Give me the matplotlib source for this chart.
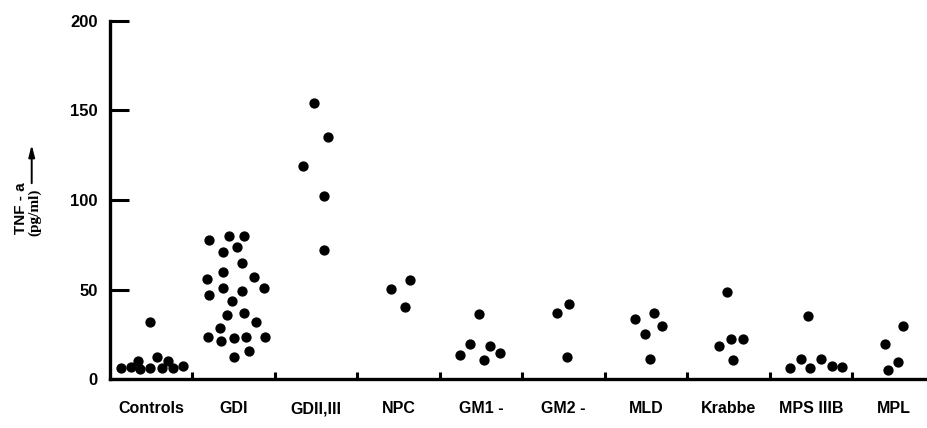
import matplotlib
matplotlib.use('Agg')
import matplotlib.pyplot as plt

# 질환 그룹 (x축 라벨)
groups = ['Controls', 'GDI', 'GDII,III', 'NPC', 'GM1 -', 'GM2 -',
          'MLD', 'Krabbe', 'MPS IIIB', 'MPL']

# 그룹 안에서의 가로 위치 (0~1, 그림에서 읽은 값)
controls_x = [0.13, 0.25, 0.36, 0.34, 0.49, 0.49, 0.57, 0.63, 0.70, 0.76, 0.89]
controls_y = [6.0, 6.5, 5.4, 10.2, 6.1, 31.7, 12.1, 6.1, 10.2, 6.1, 7.1]

gd1_x = [0.20, 0.44, 0.62, 0.37, 0.54, 0.60, 0.37, 0.18, 0.75, 0.37, 0.60, 0.87, 0.20,
         0.48, 0.42, 0.63, 0.77, 0.33, 0.19, 0.35, 0.50, 0.65, 0.88, 0.68, 0.50]
gd1_y = [77.7, 79.7, 80.1, 70.9, 73.9, 65.0, 59.6, 55.9, 57.0, 50.8, 49.2, 51.0, 46.8,
         43.7, 35.6, 36.7, 31.7, 28.5, 23.5, 21.2, 23.1, 23.5, 23.6, 15.5, 12.1]

gd23_x = [0.47, 0.64, 0.34, 0.60, 0.59]
gd23_y = [154.0, 135.4, 119.2, 102.2, 72.1]

npc_x = [0.41, 0.64, 0.58]
npc_y = [50.4, 55.5, 40.4]

gm1_x = [0.47, 0.36, 0.61, 0.25, 0.73, 0.53]
gm1_y = [36.5, 19.4, 18.3, 13.4, 14.4, 10.4]

gm2_x = [0.42, 0.57, 0.54]
gm2_y = [36.7, 41.7, 12.5]

mld_x = [0.37, 0.60, 0.69, 0.49, 0.55]
mld_y = [33.5, 36.7, 29.4, 25.3, 11.2]

krabbe_x = [0.48, 0.39, 0.53, 0.68, 0.56]
krabbe_y = [48.6, 18.3, 22.3, 22.3, 10.4]

mps_x = [0.47, 0.25, 0.38, 0.49, 0.62, 0.75, 0.88]
mps_y = [35.4, 6.1, 11.2, 6.0, 11.2, 7.4, 6.7]

mpl_x = [0.62, 0.40, 0.56, 0.44]
mpl_y = [29.4, 19.4, 9.3, 5.2]

y_ticks = [0, 50, 100, 150, 200]

group_x = [controls_x, gd1_x, gd23_x, npc_x, gm1_x, gm2_x, mld_x, krabbe_x, mps_x, mpl_x]
group_y = [controls_y, gd1_y, gd23_y, npc_y, gm1_y, gm2_y, mld_y, krabbe_y, mps_y, mpl_y]

SANS = ['Liberation Sans', 'DejaVu Sans']
SERIF = ['Liberation Serif', 'DejaVu Serif']


def setup_axes(ax):
    # 왼쪽, 아래 축만 굵게
    for side in ['top', 'right']:
        ax.spines[side].set_visible(False)
    for side in ['left', 'bottom']:
        ax.spines[side].set_linewidth(2.4)
        ax.spines[side].set_capstyle('projecting')

    ax.set_xlim(0, 9.92)
    ax.set_ylim(0, 200)

    # y축: 안쪽으로 긴 눈금
    ax.set_yticks(y_ticks)
    ax.set_yticklabels([str(v) for v in y_ticks], fontfamily=SANS,
                       fontweight='bold', fontsize=12)
    ax.tick_params(axis='y', direction='in', length=14, width=2.2, pad=9)

    # x축: 그룹 경계에 짧은 눈금, 라벨은 가운데(minor)
    ax.set_xticks(range(1, len(groups)))
    ax.set_xticklabels([])
    ax.tick_params(axis='x', which='major', direction='in', length=5, width=2.2)
    ax.set_xticks([i + 0.5 for i in range(len(groups))], minor=True)
    ax.set_xticklabels(groups, minor=True, fontfamily=SANS,
                       fontweight='bold', fontsize=11.5)
    ax.tick_params(axis='x', which='minor', length=0, pad=16)


def draw_points(ax):
    for i, (xs, ys) in enumerate(zip(group_x, group_y)):
        ax.plot([i + x for x in xs], ys, 'o', color='black',
                markersize=6.4, clip_on=False, zorder=3)


def draw_ylabel(fig):
    fig.text(20.7 / 928, 1 - 208 / 428, 'TNF - a', rotation=90,
             ha='center', va='center', fontsize=11, fontweight='bold',
             fontfamily=SANS)
    fig.text(34.5 / 928, 1 - 212 / 428, '(pg/ml)', rotation=90,
             ha='center', va='center', fontsize=11, fontweight='bold',
             fontfamily=SERIF)
    fig.add_artist(matplotlib.patches.FancyArrowPatch(
        (31.7 / 928, 1 - 186 / 428), (31.7 / 928, 1 - 142 / 428),
        transform=fig.transFigure, arrowstyle='-|>,head_length=0.7,head_width=0.18',
        mutation_scale=10, color='black', lw=1.4))


def main():
    fig = plt.figure(figsize=(9.28, 4.28), dpi=100)
    ax = fig.add_axes([110 / 928, 49 / 428, 818 / 928, 358 / 428])
    setup_axes(ax)
    draw_points(ax)
    draw_ylabel(fig)
    fig.savefig('out.png', dpi=100)


if __name__ == '__main__':
    main()
